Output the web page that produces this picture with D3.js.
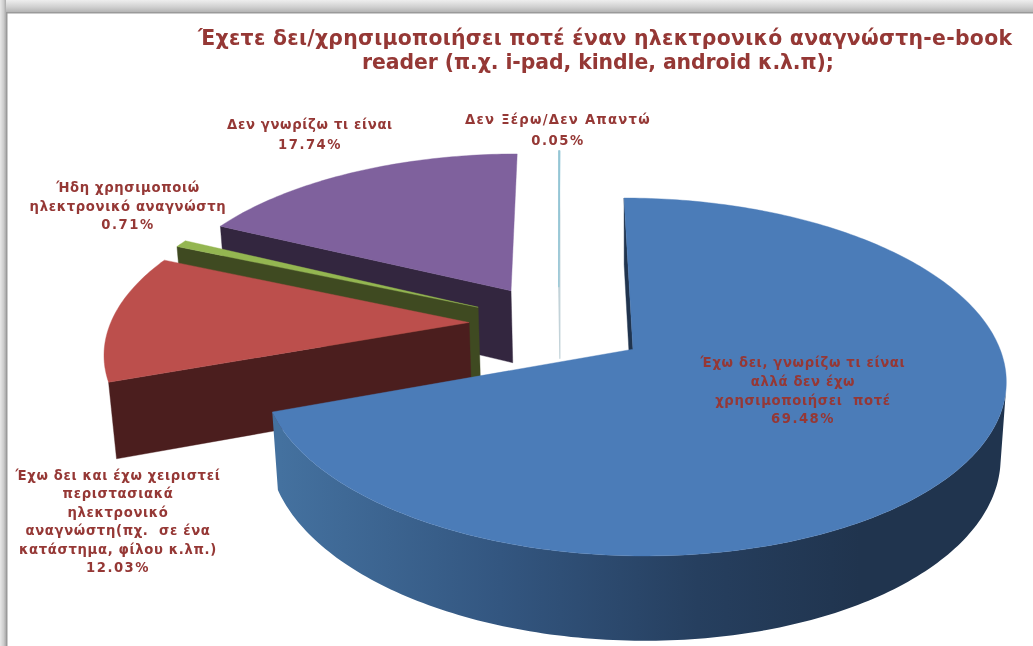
<!DOCTYPE html>
<html><head><meta charset="utf-8">
<script src="https://cdn.jsdelivr.net/npm/d3@7"></script>
<style>
html,body{margin:0;padding:0;background:#fff;overflow:hidden}
text{white-space:pre;font-family:"DejaVu Sans",sans-serif;font-weight:bold;fill:#953735;text-anchor:middle}
</style></head><body>
<svg id="c" width="1033" height="646"></svg>
<script>
const categories = [
  ["Έχω δει, γνωρίζω τι είναι","αλλά δεν έχω","χρησιμοποιήσει  ποτέ"],
  ["Έχω δει και έχω χειριστεί","περιστασιακά","ηλεκτρονικό","αναγνώστη(πχ.  σε ένα","κατάστημα, φίλου κ.λπ.)"],
  ["Ήδη χρησιμοποιώ","ηλεκτρονικό αναγνώστη"],
  ["Δεν γνωρίζω τι είναι"],
  ["Δεν Ξέρω/Δεν Απαντώ"]
];
const values = [69.48, 12.03, 0.71, 17.74, 0.05];
const titleLines = ["Έχετε δει/χρησιμοποιήσει ποτέ έναν ηλεκτρονικό αναγνώστη-e-book","reader (π.χ. i-pad, kindle, android κ.λ.π);"];

const topColors  = ["#4b7cb8","#bc4f4c","#94b651","#7f619d","#93c6d6"];
const wallColors = ["#20344e","#4b1e1e","#3f4a21","#33263f","#c3d3d9"];
const explosions = [0.26,0.24,0.24,0.24,0.23];
const sideNudge  = [0,0,0,0,0.01];

// camera model
const ox=633, oy=349, R=367, Ry=174.6, H=76, k=0.155, m=0.015, shear=-10.3;
const shiftX=-0.213, shiftY=0.148;
function project(x,y,z){
  const wx=x+shiftX, wy=y+shiftY;
  const w=1+k*wy-m*z;
  return [ox+(R*wx+shear*wy)/w, oy-(Ry*wy+H*z)/w];
}
const svg=d3.select("#c");
const defs=svg.append("defs");
const g1=defs.append("linearGradient").attr("id","blueWall").attr("gradientUnits","userSpaceOnUse")
  .attr("x1",280).attr("x2",860).attr("y1",0).attr("y2",0);
[[0,"#44719f"],[.38,"#335680"],[.72,"#263f5f"],[1,"#20344e"]].forEach(s=>g1.append("stop").attr("offset",s[0]).attr("stop-color",s[1]));
const gt=defs.append("linearGradient").attr("id","topBar").attr("x1",0).attr("x2",0).attr("y1",0).attr("y2",1);
[[0,"#eeeeee"],[.6,"#cfcfcf"],[1,"#b4b4b4"]].forEach(s=>gt.append("stop").attr("offset",s[0]).attr("stop-color",s[1]));
const gl=defs.append("linearGradient").attr("id","leftBar").attr("x1",0).attr("x2",1).attr("y1",0).attr("y2",0);
[[0,"#e8e8e8"],[.6,"#cdcdcd"],[1,"#aaaaaa"]].forEach(s=>gl.append("stop").attr("offset",s[0]).attr("stop-color",s[1]));
defs.append("filter").attr("id","soft").append("feGaussianBlur").attr("stdDeviation",0.35);

svg.append("rect").attr("width",1033).attr("height",646).attr("fill","#fff");
svg.append("rect").attr("width",1033).attr("height",12).attr("fill","url(#topBar)");
svg.append("rect").attr("y",0).attr("width",6).attr("height",646).attr("fill","url(#leftBar)");
svg.append("rect").attr("x",6).attr("y",12).attr("width",1027).attr("height",1.5).attr("fill","#9a9a9a");
svg.append("rect").attr("x",6).attr("y",12).attr("width",1.5).attr("height",634).attr("fill","#9a9a9a");

const line=d3.line().curve(d3.curveLinear);
const arcs=d3.pie().sort(null).value(d=>d)(values);
const order=[3,4,2,1,0];
const chart=svg.append("g");

order.forEach(i=>{
  const a=arcs[i], mid=(a.startAngle+a.endAngle)/2;
  const e=explosions[i];
  const ex=e*Math.sin(mid)+sideNudge[i], ey=e*Math.cos(mid);
  const thin=(a.endAngle-a.startAngle)<0.02;
  const n=Math.max(2,Math.ceil((a.endAngle-a.startAngle)*60));
  const angs=d3.range(n+1).map(j=>a.startAngle+(a.endAngle-a.startAngle)*j/n);
  const rim=z=>angs.map(t=>project(ex+Math.sin(t),ey+Math.cos(t),z));
  const apex=z=>project(ex,ey,z);
  const g=chart.append("g");
  const face=(pts,fill,sw)=>g.append("path").attr("d",line(pts)+"Z").attr("fill",fill)
      .attr("stroke",sw?fill:"none").attr("stroke-width",sw||0).attr("stroke-linejoin","round");
  const rT=rim(0), rB=rim(-1);
  // start-edge wall, shown when it faces the camera
  const startWall=[apex(0),rT[0],rB[0],apex(-1)];
  if(thin||d3.polygonArea(startWall)>0) face(startWall,wallColors[i],thin?1.2:0.4);
  // outer wall only for slices opening toward the viewer: one polygon across the facing arc
  if(!thin && Math.cos(mid)<0){
    const vis=d3.range(n).filter(j=>d3.polygonArea([rT[j],rT[j+1],rB[j+1],rB[j]])>0);
    const j0=d3.min(vis), j1=d3.max(vis)+1;
    face(rT.slice(j0,j1+1).concat(rB.slice(j0,j1+1).reverse()),"url(#blueWall)",0);
  }
  face([apex(0)].concat(rT),topColors[i],thin?1.2:0.4);
});

// labels
const labelAnchors=[[803,367],[118,480],[128,192],[310,129],[558,124]];
const labelStep=[18.8,18.4,18.6,20,21];
const nameSpacing=[0.65,0.65,0.65,0.65,1.25];
const labels=svg.append("g").style("font-size","13.2px").attr("filter","url(#soft)");
categories.forEach((lines,i)=>{
  const all=lines.concat([values[i].toFixed(2)+"%"]);
  labels.selectAll(null).data(all).enter().append("text")
    .attr("x",labelAnchors[i][0]).attr("y",(d,j)=>labelAnchors[i][1]+j*labelStep[i])
    .style("letter-spacing",(d,j)=>(j===all.length-1?1.5:nameSpacing[i])+"px").text(d=>d);
});
const titleX=[605,598], titleY=[45,69], titleWidth=[814,472];
svg.append("g").style("font-size","20.4px").attr("filter","url(#soft)").selectAll("text").data(titleLines).enter().append("text")
  .attr("x",(d,i)=>titleX[i]).attr("y",(d,i)=>titleY[i]).attr("textLength",(d,i)=>titleWidth[i]).attr("lengthAdjust","spacing").text(d=>d);
</script>
</body></html>
